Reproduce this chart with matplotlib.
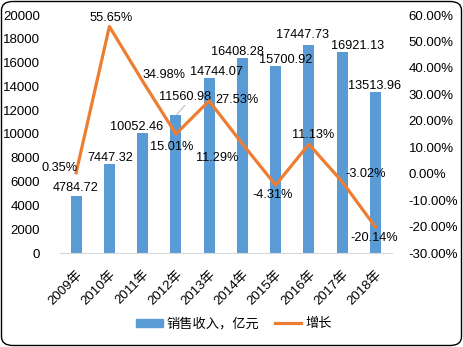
import matplotlib.pyplot as plt
from matplotlib.patches import FancyBboxPatch
from matplotlib.lines import Line2D
from matplotlib.patches import Patch
import numpy as np

plt.rcParams['font.family'] = ['Liberation Sans', 'Noto Sans CJK SC']

years = ['2009年', '2010年', '2011年', '2012年', '2013年',
         '2014年', '2015年', '2016年', '2017年', '2018年']
revenue = [4784.72, 7447.32, 10052.46, 11560.98, 14744.07,
           16408.28, 15700.92, 17447.73, 16921.13, 13513.96]
growth = [0.35, 55.65, 34.98, 15.01, 27.53,
          11.29, -4.31, 11.13, -3.02, -20.14]

# label offsets in pixels (dx, dy) from the mark
bar_off = [(0, 8), (1, 6), (-6, 6), (9, 18), (7, 6),
           (-5, 6), (10, 6), (-6, 10), (15, 6), (-1, 6)]
line_off = [(-17, 5), (2, 9), (21, 6), (-4, -13), (28, 1),
            (-25, -14), (-3, -10), (4, 9), (23, 8), (-1, -11)]

blue = '#5B9BD5'
orange = '#ED7D31'

fig = plt.figure(figsize=(4.63, 3.47), dpi=100)
W, H = 463, 347
ax = fig.add_axes([59.5 / W, (H - 253) / H, (392 - 59.5) / W, (253 - 15) / H])
ax2 = ax.twinx()

x = np.arange(len(years))
ax.bar(x, revenue, width=0.33, color=blue, zorder=2)
ax.set_xlim(-0.5, len(years) - 0.5)
ax.set_ylim(0, 20000)
ax.set_yticks(range(0, 20001, 2000))

ax2.plot(x, growth, color=orange, lw=2.3, zorder=3)
ax2.set_ylim(-30, 60)
ax2.set_yticks(range(-30, 61, 10))
ax2.set_yticklabels(['%.2f%%' % v for v in range(-30, 61, 10)])

for a in (ax, ax2):
    for s in a.spines.values():
        s.set_visible(False)
    a.tick_params(length=0, labelsize=9.5, colors='black')
ax.spines['bottom'].set_visible(True)
ax.spines['bottom'].set_color('#D9D9D9')
ax.tick_params(axis='y', pad=14)
ax2.tick_params(axis='y', pad=12)

ax.set_xticks(x)
ax.set_xticklabels(years, rotation=45, ha='right', va='top',
                   rotation_mode='anchor', fontsize=9.5)
ax.tick_params(axis='x', pad=11)

# bar value labels
for i, v in enumerate(revenue):
    dx, dy = bar_off[i]
    ax.annotate('%.2f' % v, (i, v), xytext=(dx, dy), textcoords='offset pixels',
                ha='center', va='center', fontsize=9.2, zorder=5)
# leader line for the 2012 label
ax.annotate('', (3, revenue[3]), xytext=(9, 10), textcoords='offset pixels',
            arrowprops=dict(arrowstyle='-', color='#BFBFBF', lw=0.8,
                            shrinkA=0, shrinkB=1))

# growth labels
for i, v in enumerate(growth):
    dx, dy = line_off[i]
    ax2.annotate('%.2f%%' % v, (i, v), xytext=(dx, dy), textcoords='offset pixels',
                 ha='center', va='center', fontsize=9.2, zorder=5)

handles = [Patch(color=blue), Line2D([], [], color=orange, lw=2.3)]
fig.legend(handles, ['销售收入，亿元', '增长'], loc='center', ncol=2,
           bbox_to_anchor=(234 / W, (H - 324) / H), frameon=False,
           fontsize=9.5, handlelength=2.0, handleheight=0.6, columnspacing=1.2,
           handletextpad=0.3)

border = FancyBboxPatch((1.5 / W, 1.5 / H), (W - 3) / W, (H - 3) / H,
                        boxstyle='round,pad=0,rounding_size=0.025',
                        transform=fig.transFigure, fill=False,
                        edgecolor='black', lw=1.0)
fig.patches.append(border)

fig.savefig('out.png', dpi=100)
